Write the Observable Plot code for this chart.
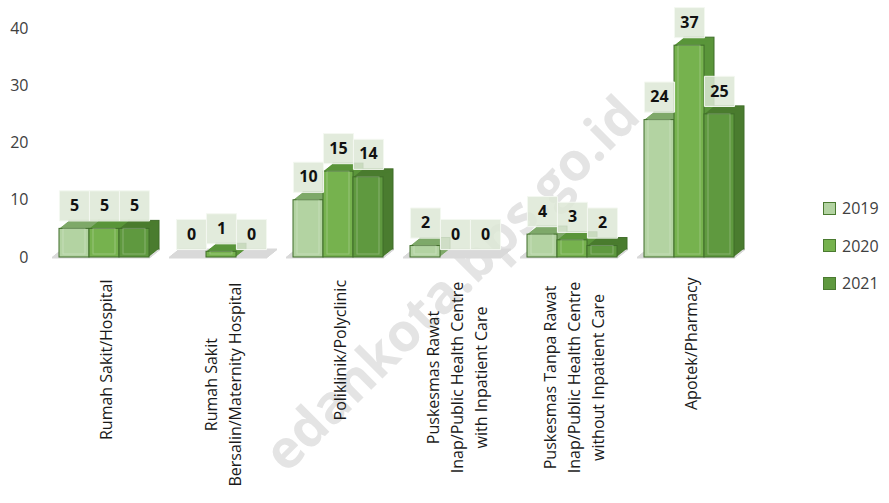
<!DOCTYPE html>
<html>
<head>
<meta charset="utf-8">
<script src="https://cdn.jsdelivr.net/npm/d3@7"></script>
<script src="https://cdn.jsdelivr.net/npm/@observablehq/plot@0.6"></script>
<style>
  body { margin: 0; background: white; }
  #wrap { position: relative; width: 889px; height: 503px; overflow: hidden; background: white; font-family: "Open Sans", sans-serif; }
  #wm { position: absolute; left: 450px; top: 282px; transform: translate(-50%, -50%) rotate(-45deg); white-space: nowrap; font: bold 53px "Open Sans", sans-serif; color: #e4e4e4; line-height: 1; }
  #chart { position: absolute; left: 0; top: 0; }
  #legend { position: absolute; left: 823px; top: 196px; font-size: 16px; color: #404040; }
  .li { display: flex; align-items: center; height: 24px; margin-bottom: 13.5px; }
  .sw { width: 11px; height: 11px; border: 1px solid #4a7a30; margin-right: 6px; }
  g[aria-label="category"] text { letter-spacing: 0.9px; }
</style>
</head>
<body>
<div id="wrap">
  <div id="wm">edankota.bps.go.id</div>
  <div id="chart"></div>
  <div id="legend"></div>
</div>
<script>
// ---- data ----
const categories = [
  "Rumah Sakit/Hospital",
  "Rumah Sakit\nBersalin/Maternity Hospital",
  "Poliklinik/Polyclinic",
  "Puskesmas Rawat\nInap/Public Health Centre\nwith Inpatient Care",
  "Puskesmas Tanpa Rawat\nInap/Public Health Centre\nwithout Inpatient Care",
  "Apotek/Pharmacy"
];
const years = ["2019", "2020", "2021"];
const values2019 = [5, 0, 10, 2, 4, 24];
const values2020 = [5, 1, 15, 0, 3, 37];
const values2021 = [5, 0, 14, 0, 2, 25];
const yTicks = [0, 10, 20, 30, 40];

// ---- styles ----
const frontColor = {"2019": "#b3d3a2", "2020": "#76b24e", "2021": "#5f993f"};
const sideColor  = {"2019": "#7fa96a", "2020": "#5a953a", "2021": "#4a7c2f"};
const edgeColor = "#3f6d29";
const DEPTH = 10;
const LETTER = 0.9;

const series = [values2019, values2020, values2021];
const rows = [];
categories.forEach((c, i) => years.forEach((yr, j) => rows.push({cat: c, year: yr, value: series[j][i]})));

// measure label lines for centering
const ctx = document.createElement("canvas").getContext("2d");
const labelFont = 16;
ctx.font = `${labelFont}px "Open Sans"`;
const longest = c => Math.max(...c.split("\n").map(s => ctx.measureText(s).width + LETTER * s.length));

const marks = [];
// floor
for (let k = 0; k <= DEPTH; k++) {
  marks.push(Plot.ruleY([0], {dx: k, dy: -0.8 * k, stroke: "#d9d9d9", strokeWidth: 2, insetLeft: -6}));
}
// extrusion (top + side faces)
for (let k = DEPTH; k >= 1; k--) {
  marks.push(Plot.barY(rows, {
    fx: "cat", x: "year", y: "value",
    fill: d => sideColor[d.year],
    dx: k, dy: -0.8 * k,
    stroke: k === DEPTH ? edgeColor : "none", strokeWidth: 1
  }));
}
// front faces
marks.push(Plot.barY(rows, {
  fx: "cat", x: "year", y: "value",
  fill: d => frontColor[d.year], stroke: edgeColor, strokeWidth: 1
}));
// inner highlight line
marks.push(Plot.barY(rows, {
  fx: "cat", x: "year", y: "value",
  fill: "none", stroke: "white", strokeOpacity: 0.25, insetLeft: 4, insetRight: 4, insetBottom: 3
}));
// label boxes
marks.push(Plot.dot(rows, {
  fx: "cat", x: "year", y: "value", dy: -23,
  symbol: "square", r: 17, fill: "#dde8d6", fillOpacity: 0.85, stroke: "#f4f8f1", strokeWidth: 1
}));
marks.push(Plot.text(rows, {
  fx: "cat", x: "year", y: "value", dy: -23,
  text: d => String(d.value), fontSize: 16, fontWeight: "bold", fill: "#111"
}));
// category labels
categories.forEach(c => {
  marks.push(Plot.text([c], {
    fx: d => d, text: d => d, frameAnchor: "bottom", ariaLabel: "category",
    rotate: -90, textAnchor: "middle", lineAnchor: "middle", lineHeight: 1.5,
    dy: 13 + longest(c) / 2, fontSize: labelFont, fill: "#1a1a1a"
  }));
});

const chart = Plot.plot({
  width: 889, height: 503,
  marginLeft: 58, marginRight: 154, marginTop: 28, marginBottom: 246,
  style: {background: "transparent", fontFamily: "Open Sans", overflow: "visible"},
  color: {type: "identity"},
  y: {domain: [0, 40], ticks: yTicks, tickSize: 0, tickPadding: 30, label: null, fontSize: 16},
  fx: {domain: categories, paddingInner: 25 / 117, paddingOuter: 0, axis: null, label: null},
  x: {domain: years, padding: 0, axis: null},
  marks: [
    ...marks,
    Plot.axisY({ticks: yTicks, tickSize: 0, tickPadding: 30, label: null, fontSize: 16, fill: "#404040"})
  ]
});
document.getElementById("chart").appendChild(chart);

// legend
const legend = document.getElementById("legend");
years.forEach(yr => {
  const li = document.createElement("div");
  li.className = "li";
  li.innerHTML = `<div class="sw" style="background:${frontColor[yr]}"></div><span>${yr}</span>`;
  legend.appendChild(li);
});
</script>
</body>
</html>
